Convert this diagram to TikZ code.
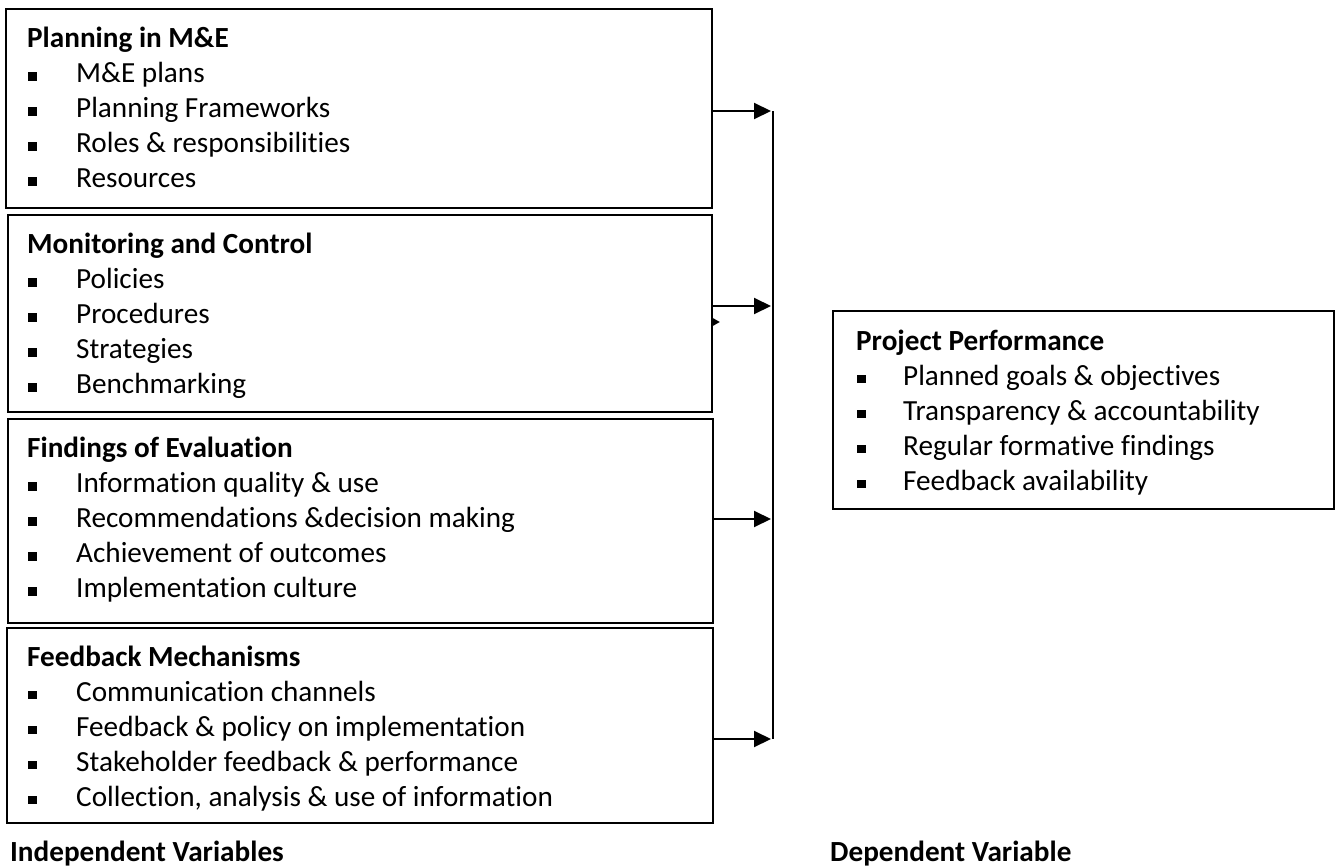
\documentclass[tikz,border=0pt]{standalone}
\usepackage{fontspec}
\setmainfont{Carlito}[Ligatures=NoCommon]
\usetikzlibrary{arrows.meta}
\begin{document}
\begin{tikzpicture}[x=1pt,y=-1pt,
  box/.style={draw, line width=1.8pt, anchor=north west, inner sep=0pt, outer sep=0pt},
  ttl/.style={anchor=base west, inner sep=0pt, font=\bfseries\fontsize{29.2}{35}\selectfont},
  itm/.style={anchor=base west, inner sep=0pt, font=\fontsize{29.2}{35}\selectfont},
  blt/.style={fill, minimum size=8.8pt, inner sep=0pt, anchor=south west},
  arr/.style={-{Triangle[length=17pt,width=16pt]}, line width=2pt},
  con/.style={line width=2pt}]
\useasboundingbox (0,0) rectangle (1339,867);
% boxes
\node[box, minimum width=706pt, minimum height=199pt] (b1) at (6,9) {};
\node[box, minimum width=704pt, minimum height=197pt] (b2) at (8,215) {};
\node[box, minimum width=705pt, minimum height=204pt] (b3) at (8,419) {};
\node[box, minimum width=706pt, minimum height=195pt] (b4) at (7,628) {};
\node[box, minimum width=501pt, minimum height=198pt] (pp) at (833,311) {};
% box 1
\node[ttl] (t1) at (27,47.5) {Planning in M\&E};
\foreach \t [count=\i] in {M\&E plans, Planning Frameworks, Roles \& responsibilities, Resources}{
  \node[blt] (b1b\i) at (27.5,{47.5+35*\i-1.5}) {};
  \node[itm] (b1t\i) at (76,{47.5+35*\i}) {\t};
}
% box 2
\node[ttl] (t2) at (27,253.5) {Monitoring and Control};
\foreach \t [count=\i] in {Policies, Procedures, Strategies, Benchmarking}{
  \node[blt] (b2b\i) at (27.5,{253.5+35*\i-1.5}) {};
  \node[itm] (b2t\i) at (76,{253.5+35*\i}) {\t};
}
% box 3
\node[ttl] (t3) at (27,457.5) {Findings of Evaluation};
\foreach \t [count=\i] in {Information quality \& use, Recommendations \&decision making, Achievement of outcomes, Implementation culture}{
  \node[blt] (b3b\i) at (27.5,{457.5+35*\i-1.5}) {};
  \node[itm] (b3t\i) at (76,{457.5+35*\i}) {\t};
}
% box 4
\node[ttl] (t4) at (27,666) {Feedback Mechanisms};
\foreach \t [count=\i] in {Communication channels, Feedback \& policy on implementation, Stakeholder feedback \& performance, {Collection, analysis \& use of information}}{
  \node[blt] (b4b\i) at (27.5,{666+35*\i-1.5}) {};
  \node[itm] (b4t\i) at (76,{666+35*\i}) {\t};
}
% right box
\node[ttl] (t5) at (856,350) {Project Performance};
\foreach \t [count=\i] in {Planned goals \& objectives, Transparency \& accountability, Regular formative findings, Feedback availability}{
  \node[blt] (b5b\i) at (856.5,{350+35*\i-1.5}) {};
  \node[itm] (b5t\i) at (903,{350+35*\i}) {\t};
}
% bottom labels
\node[ttl] (iv) at (10,861) {Independent Variables};
\node[ttl] (dv) at (830,861) {Dependent Variable};
% connectors
\coordinate (vtop) at (773,111);
\coordinate (vbot) at (773,739);
\draw[con] (vtop) -- (vbot);
\coordinate (a1) at (771,111);
\coordinate (a2) at (771,306);
\coordinate (a3) at (771,519);
\coordinate (a4) at (771,739);
\draw[arr] (b1.east |- a1) -- (a1);
\draw[arr] (b2.east |- a2) -- (a2);
\draw[arr] (b3.east |- a3) -- (a3);
\draw[arr] (b4.east |- a4) -- (a4);
\coordinate (s1) at (712.8,318);
\fill (s1) -- ++(7,4) -- ++(-7,4) -- cycle;
\end{tikzpicture}
\end{document}
